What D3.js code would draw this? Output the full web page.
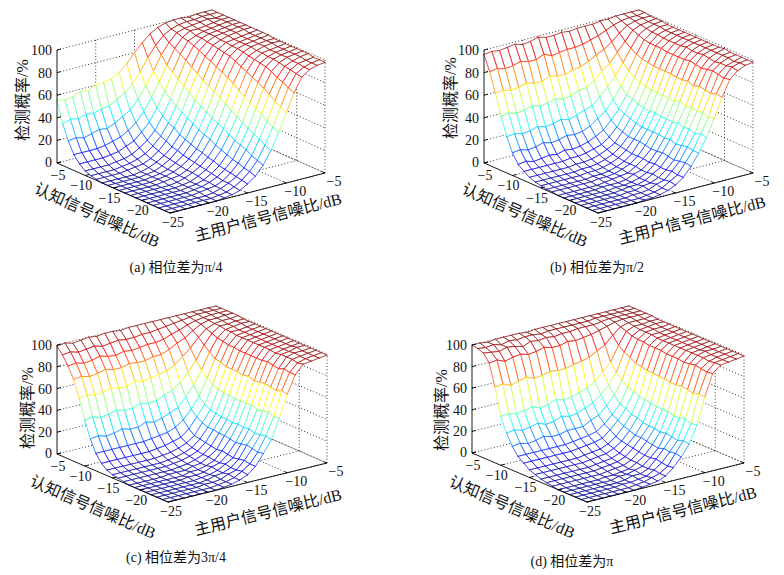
<!DOCTYPE html>
<html><head><meta charset="utf-8">
<script src="https://cdn.jsdelivr.net/npm/d3@7"></script>
<style>
body{margin:0;background:#fff}
svg text{font-family:"Liberation Serif","Times New Roman","Noto Sans CJK SC",serif;fill:#111}
</style></head>
<body>
<svg id="chart" width="784" height="575"></svg>
<script>
// ---- data ----
const snrPrimary   = [-25,-24,-23,-22,-21,-20,-19,-18,-17,-16,-15,-14,-13,-12,-11,-10,-9,-8,-7,-6,-5]; // 主用户信号信噪比 (x)
const snrCognitive = [-25,-24,-23,-22,-21,-20,-19,-18,-17,-16,-15,-14,-13,-12,-11,-10,-9,-8,-7,-6,-5]; // 认知信号信噪比 (y)
const xTickVals = [-20,-15,-10,-5];
const yTickVals = [-5,-10,-15,-20,-25];
const zTickVals = [0,20,40,60,80,100];
const captions = ["(a) 相位差为π/4","(b) 相位差为π/2","(c) 相位差为3π/4","(d) 相位差为π"];
const zTitle = "检测概率/%", yTitle = "认知信号信噪比/dB", xTitle = "主用户信号信噪比/dB";

// detection probability (%) ; rows = cognitive SNR -25..-5, columns = primary SNR -25..-5
const pdPhasePi4 = [
[0,0,0,0,0,0,0,1,2,4,8,13,21,32,46,62,78,90,95,97,98],
[0,0,0,0,0,0,0,1,2,5,9,15,23,35,49,65,80,91,95,97,98],
[0,0,0,0,0,0,0,1,3,6,10,16,25,38,52,68,83,92,96,97,98],
[0,0,0,0,0,0,1,2,3,6,11,18,28,40,56,72,85,93,96,98,99],
[0,0,0,0,0,0,1,2,4,7,12,19,30,43,59,75,88,94,97,98,99],
[0,0,0,0,0,0,1,2,4,8,13,21,32,46,62,78,90,95,97,98,99],
[0,0,0,0,0,0,1,2,5,9,15,23,35,49,65,80,91,95,97,98,99],
[0,0,0,0,0,0,1,3,6,10,16,25,38,52,68,83,92,96,97,98,99],
[0,0,0,0,0,1,2,3,6,11,18,28,40,56,72,85,93,96,98,99,99],
[0,0,0,0,0,1,2,4,7,12,19,30,43,59,75,88,94,97,98,99,99],
[0,0,0,0,0,1,2,4,8,13,21,32,46,62,78,90,95,97,98,99,100],
[0,0,0,0,0,1,2,5,9,15,23,35,49,65,80,91,95,97,98,99,100],
[0,0,0,0,0,1,3,6,10,16,25,38,52,68,83,92,96,97,98,99,100],
[1,1,1,1,2,3,4,7,12,19,29,41,57,72,85,93,96,98,99,100,100],
[2,2,2,2,3,4,6,9,14,21,31,44,60,75,88,94,97,98,99,100,100],
[4,4,4,4,5,6,8,12,17,24,35,48,64,79,90,95,97,98,99,100,100],
[8,8,8,8,9,10,13,16,22,29,40,53,68,82,92,95,97,98,99,100,100],
[14,14,14,14,15,17,19,23,28,36,47,59,72,85,93,97,97,98,99,100,100],
[24,25,23,25,27,26,29,33,37,45,55,66,79,88,95,97,98,99,100,99,100],
[37,39,38,40,39,41,42,46,50,56,65,76,85,92,96,98,99,99,100,100,100],
[56,54,55,58,57,60,61,62,66,72,80,87,93,97,99,100,100,99,100,100,100]
];
const pdPhasePi2 = [
[0,0,0,0,0,0,1,1,2,4,7,12,20,30,42,57,74,88,94,97,98],
[0,0,0,0,0,0,0,1,2,4,8,12,21,30,43,56,75,87,95,97,98],
[0,0,0,0,0,0,1,1,2,5,7,13,20,31,41,58,73,88,94,96,98],
[0,0,0,0,0,0,1,1,3,4,7,12,19,30,43,57,74,89,94,97,98],
[0,0,0,0,0,0,1,2,2,4,8,12,20,29,42,58,75,88,93,97,98],
[0,0,0,0,0,0,1,1,2,4,7,13,21,31,44,57,73,87,94,97,99],
[0,0,0,0,0,1,1,1,2,5,7,12,20,30,42,59,75,88,95,97,98],
[0,0,0,0,0,0,1,2,3,4,8,13,20,31,43,57,74,89,94,97,98],
[1,1,1,1,1,1,2,2,3,5,8,13,21,31,43,57,74,88,94,97,98],
[1,1,1,1,1,1,2,2,3,5,8,13,22,31,44,58,75,88,95,97,98],
[2,2,2,2,2,2,3,3,4,6,9,14,22,31,43,58,75,88,94,97,98],
[3,3,3,3,3,3,4,4,5,7,10,15,22,32,44,58,75,88,94,97,98],
[5,5,5,5,5,5,6,6,7,9,12,16,24,34,45,59,75,89,94,97,98],
[8,8,8,8,8,8,9,9,10,12,14,19,26,36,47,60,76,89,94,97,98],
[12,13,11,12,13,12,14,13,14,16,19,23,30,38,49,62,77,89,95,97,98],
[20,21,19,20,22,20,21,23,22,23,26,31,36,44,54,66,79,90,95,98,98],
[32,33,31,32,34,32,33,35,33,35,38,40,46,53,61,71,82,92,96,98,99],
[48,49,47,48,50,48,49,51,49,50,53,54,58,65,70,78,86,94,97,98,99],
[66,67,65,66,68,66,66,69,67,67,69,70,73,77,80,85,91,96,98,99,99],
[83,84,82,83,85,83,83,86,83,84,85,85,86,88,90,93,96,98,99,99,100],
[96,97,96,97,98,96,97,99,97,97,98,97,98,98,98,99,99,100,100,100,100]
];
const pdPhase3Pi4 = [
[0,0,0,0,0,0,0,1,2,4,7,13,23,34,52,72,88,96,97,98,99],
[0,0,0,0,0,0,0,1,2,4,8,13,22,35,51,73,88,95,97,98,99],
[0,0,0,0,0,0,1,1,2,5,7,14,23,34,53,71,89,96,97,98,99],
[0,0,0,0,0,0,0,1,3,4,7,13,24,33,52,72,87,96,98,98,99],
[0,0,0,0,0,0,0,1,2,4,8,12,23,35,51,73,88,96,97,99,99],
[0,0,0,0,0,0,1,1,2,5,7,13,22,34,53,72,89,95,97,98,99],
[0,0,0,0,0,0,0,2,2,4,7,14,23,35,52,71,88,96,97,98,99],
[0,0,0,0,0,1,1,1,3,4,8,13,24,34,52,73,88,96,97,98,99],
[1,1,1,1,1,1,1,2,3,5,8,14,24,35,52,72,88,96,97,98,99],
[2,2,2,2,2,2,2,3,4,6,9,15,25,35,53,73,88,96,97,98,99],
[3,3,3,3,3,3,3,4,5,7,10,16,25,36,53,73,88,96,97,98,99],
[5,5,5,5,5,5,5,6,7,9,12,17,27,37,54,73,89,96,97,98,99],
[9,9,9,9,9,9,9,10,11,13,15,21,30,40,56,75,89,96,97,98,99],
[16,16,16,16,16,16,16,17,18,19,22,27,35,45,60,76,90,97,97,98,99],
[27,28,26,27,29,27,27,30,28,30,33,36,44,53,65,80,91,97,98,99,99],
[42,43,41,42,44,42,42,45,43,44,47,50,55,63,72,84,93,98,98,99,99],
[60,61,59,60,62,60,60,63,61,62,64,65,69,75,81,89,95,98,99,99,100],
[75,76,74,75,77,75,75,77,76,76,78,78,81,85,88,93,97,99,99,100,100],
[85,86,84,85,87,85,84,86,85,86,87,87,88,91,93,96,98,99,100,100,100],
[93,94,92,93,94,92,93,94,93,93,94,94,95,96,97,98,99,100,100,100,100],
[99,100,98,99,100,99,100,100,99,100,100,100,100,100,100,100,100,100,100,100,100]
];
const pdPhasePi = [
[0,0,0,0,0,0,0,1,2,3,6,12,20,30,46,70,90,96,97,98,99],
[0,0,0,0,0,0,0,1,2,4,6,11,21,31,45,71,89,96,97,98,99],
[0,0,0,0,0,0,1,1,2,3,7,12,20,29,47,69,90,95,97,98,99],
[0,0,0,0,0,0,0,1,3,3,6,13,21,30,46,70,91,96,97,98,99],
[0,0,0,0,0,0,0,2,2,4,6,12,19,31,45,71,90,96,98,98,99],
[0,0,0,0,0,0,1,1,2,3,7,12,20,30,47,70,89,96,97,98,99],
[1,1,1,1,1,1,1,2,3,4,7,13,21,31,47,70,90,96,97,98,99],
[2,2,2,2,2,2,2,3,4,5,8,14,22,31,47,71,90,96,97,98,99],
[3,3,3,3,3,3,3,4,5,6,9,15,22,32,48,71,90,96,97,98,99],
[5,5,5,5,5,5,5,6,7,8,11,16,24,34,49,72,91,96,97,98,99],
[7,7,7,7,7,7,7,8,9,10,13,18,26,35,50,72,91,96,97,98,99],
[11,11,11,11,11,11,11,12,13,14,16,22,29,38,52,73,91,96,97,98,99],
[15,15,15,15,15,15,15,16,17,18,20,25,32,40,54,74,92,97,97,98,99],
[22,23,21,22,24,22,22,24,24,24,28,31,38,46,58,77,92,97,98,98,99],
[32,33,31,32,34,31,32,35,33,34,37,40,46,53,63,80,93,97,98,99,99],
[45,46,44,45,47,44,45,48,46,47,49,52,56,63,70,84,95,98,98,99,99],
[70,71,68,70,72,69,70,72,71,71,73,74,76,80,84,91,97,99,99,99,100],
[90,91,88,90,91,89,90,92,90,90,92,91,92,93,95,97,99,100,100,100,100],
[97,96,95,97,96,94,97,96,97,96,97,97,98,98,98,99,100,100,100,100,100],
[99,98,99,97,99,98,99,99,98,99,99,99,99,99,99,100,100,100,100,100,100],
[100,100,99,100,100,100,100,99,100,100,100,100,100,100,100,100,100,100,100,100,100]
];
const datasets = [pdPhasePi4, pdPhasePi2, pdPhase3Pi4, pdPhasePi];

// ---- layout (pixel anchors of each panel's box) ----
const panels = [
 {F:[170,213],R:[325,173],L:[57,163],zH:113, zl:[22,100], yl:[97,215], xl:[268,217], cap:[176,272]},
 {F:[598,213],R:[753,173],L:[484,163],zH:113, zl:[450,98], yl:[525,215], xl:[692,220], cap:[597,272]},
 {F:[168,502],R:[327,463],L:[57,454],zH:109, zl:[27,408], yl:[93,507], xl:[268,512], cap:[176,562]},
 {F:[587,502],R:[744,463],L:[472,453],zH:108, zl:[441,410], yl:[512,507], xl:[683,510], cap:[572,566]}
];

const svg = d3.select("#chart");
const tx = d3.scaleLinear().domain([-25,-5]).range([0,1]);
const ty = d3.scaleLinear().domain([-25,-5]).range([0,1]);
const tz = d3.scaleLinear().domain([0,100]).range([0,1]);
const jet = d3.scaleLinear().domain([0,12.5,37.5,62.5,87.5,100])
  .range(["#00008f","#0000ff","#00ffff","#ffff00","#ff0000","#800000"]).clamp(true);
const edgeColor = v => d3.interpolateRgb(jet(v), "#ffffff")(0.14);
const fmt = v => (v<0 ? "\u2212"+Math.abs(v) : ""+v);

panels.forEach((p,k) => {
  const Z = datasets[k];
  const g = svg.append("g");
  const P = (x,y,z) => {
    const a = tx(x), b = ty(y), c = tz(z);
    return [p.F[0] + a*(p.R[0]-p.F[0]) + b*(p.L[0]-p.F[0]),
            p.F[1] + a*(p.R[1]-p.F[1]) + b*(p.L[1]-p.F[1]) - c*p.zH];
  };
  const line = (a,b,cls) => {
    const l = g.append("line").attr("x1",a[0]).attr("y1",a[1]).attr("x2",b[0]).attr("y2",b[1]);
    if (cls==="dot") l.attr("stroke","#000").attr("stroke-width",0.8).attr("stroke-dasharray","1,2.2");
    else l.attr("stroke","#000").attr("stroke-width",0.9);
    return l;
  };
  // dotted grid: back walls & floor
  zTickVals.forEach(z => {
    line(P(-25,-5,z), P(-5,-5,z), "dot");
    line(P(-5,-5,z), P(-5,-25,z), "dot");
  });
  xTickVals.forEach(x => {
    line(P(x,-5,0), P(x,-5,100), "dot");
    line(P(x,-25,0), P(x,-5,0), "dot");
  });
  [-25,-20,-15,-10].forEach(y => {
    line(P(-5,y,0), P(-5,y,100), "dot");
    line(P(-25,y,0), P(-5,y,0), "dot");
  });

  // mesh surface (painter's order: far first)
  const n = snrPrimary.length;
  const quads = [];
  for (let j=0;j<n-1;j++) for (let i=0;i<n-1;i++) quads.push({i,j,d:113*(i+0.5)+155*(j+0.5)});
  quads.sort((a,b)=>b.d-a.d);
  const surf = g.append("g");
  quads.forEach(q => {
    const {i,j} = q;
    const v = [[i,j],[i+1,j],[i+1,j+1],[i,j+1]].map(([a,b]) => ({
      pt: P(snrPrimary[a], snrCognitive[b], Z[b][a]), z: Z[b][a]}));
    surf.append("polygon").attr("points", v.map(d=>d.pt.join(",")).join(" "))
      .attr("fill","#fff").attr("stroke","none");
    for (let e=0;e<4;e++){
      const A=v[e], B=v[(e+1)%4];
      surf.append("line").attr("x1",A.pt[0]).attr("y1",A.pt[1]).attr("x2",B.pt[0]).attr("y2",B.pt[1])
        .attr("stroke", edgeColor((A.z+B.z)/2)).attr("stroke-width",0.85).attr("stroke-linecap","round");
    }
  });

  // axes
  line(P(-25,-5,0), P(-25,-5,100));
  line(P(-25,-5,0), P(-25,-25,0));
  line(P(-25,-25,0), P(-5,-25,0));
  const ux = [(p.R[0]-p.F[0])/20*0.5, (p.R[1]-p.F[1])/20*0.5];
  const uy = [(p.L[0]-p.F[0])/20*0.5, (p.L[1]-p.F[1])/20*0.5];
  zTickVals.forEach(z => {
    const a = P(-25,-5,z);
    line(a,[a[0]+ux[0],a[1]+ux[1]]);
    g.append("text").attr("x",a[0]-5).attr("y",a[1]-(z===0?1:0)).attr("dy","0.35em")
      .attr("text-anchor","end").attr("font-size",14).text(fmt(z));
  });
  yTickVals.forEach(y => {
    const a = P(-25,y,0);
    line(a,[a[0]+ux[0],a[1]+ux[1]]);
    const off = y===-25 ? [3,9] : (y===-5 ? [1,12] : [-4,10]);
    g.append("text").attr("x",a[0]+off[0]).attr("y",a[1]+off[1]).attr("dy","0.35em")
      .attr("text-anchor","middle").attr("font-size",14).text(fmt(y));
  });
  xTickVals.forEach(x => {
    const a = P(x,-25,0);
    line(a,[a[0]+uy[0],a[1]+uy[1]]);
    g.append("text").attr("x",a[0]+9).attr("y",a[1]+8).attr("dy","0.35em")
      .attr("text-anchor","middle").attr("font-size",14).text(fmt(x));
  });
  // axis titles
  const angY = Math.atan2(p.F[1]-p.L[1], p.F[0]-p.L[0])*180/Math.PI;
  const angX = Math.atan2(p.R[1]-p.F[1], p.R[0]-p.F[0])*180/Math.PI;
  g.append("text").attr("transform",`translate(${p.zl[0]},${p.zl[1]}) rotate(-90)`)
    .attr("text-anchor","middle").attr("dy","0.35em").attr("font-size",16).text(zTitle);
  g.append("text").attr("transform",`translate(${p.yl[0]},${p.yl[1]}) rotate(${angY})`)
    .attr("text-anchor","middle").attr("dy","0.35em").attr("font-size",16).text(yTitle);
  g.append("text").attr("transform",`translate(${p.xl[0]},${p.xl[1]}) rotate(${angX})`)
    .attr("text-anchor","middle").attr("dy","0.35em").attr("font-size",16).text(xTitle);
  g.append("text").attr("x",p.cap[0]).attr("y",p.cap[1]).attr("text-anchor","middle")
    .attr("font-size",14).text(captions[k]);
});
</script>
</body></html>
